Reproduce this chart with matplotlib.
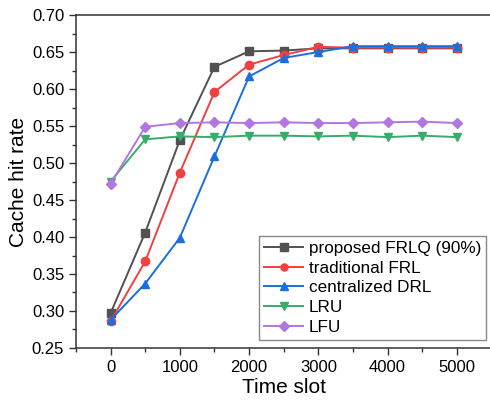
import matplotlib
matplotlib.use("Agg")
import matplotlib.pyplot as plt
from matplotlib.ticker import MultipleLocator

plt.rcParams['font.family'] = ['Liberation Sans', 'DejaVu Sans']

# --- dados ---
time_slot = [0, 500, 1000, 1500, 2000, 2500, 3000, 3500, 4000, 4500, 5000]

frlq = [0.297, 0.406, 0.531, 0.630, 0.651, 0.652, 0.655, 0.655, 0.655, 0.655, 0.655]
frl = [0.286, 0.367, 0.487, 0.596, 0.633, 0.646, 0.657, 0.656, 0.656, 0.656, 0.656]
drl = [0.288, 0.337, 0.399, 0.509, 0.617, 0.642, 0.650, 0.658, 0.658, 0.658, 0.658]
lru = [0.475, 0.532, 0.536, 0.535, 0.537, 0.537, 0.536, 0.537, 0.535, 0.537, 0.535]
lfu = [0.472, 0.549, 0.554, 0.555, 0.554, 0.555, 0.554, 0.554, 0.555, 0.556, 0.554]

series = [
    (frlq, 'proposed FRLQ (90%)', '#515151', 's'),
    (frl, 'traditional FRL', '#F14040', 'o'),
    (drl, 'centralized DRL', '#1A6FDF', '^'),
    (lru, 'LRU', '#37AD6B', 'v'),
    (lfu, 'LFU', '#B177DE', 'D'),
]

fig = plt.figure(figsize=(4.9, 4.07), dpi=100)
ax = fig.add_axes([0.155, 0.145, 0.848, 0.818])

for vals, nome, cor, mk in series:
    ms = 5.5 if mk == 'D' else 6
    ax.plot(time_slot, vals, color=cor, marker=mk, markersize=ms,
            linewidth=1.4, label=nome)

ax.set_xlim(-500, 5500)
ax.set_ylim(0.25, 0.70)
ax.xaxis.set_major_locator(MultipleLocator(1000))
ax.xaxis.set_minor_locator(MultipleLocator(500))
ax.yaxis.set_major_locator(MultipleLocator(0.05))
ax.yaxis.set_minor_locator(MultipleLocator(0.025))
ax.yaxis.set_major_formatter(plt.FormatStrFormatter('%.2f'))

ax.tick_params(which='major', direction='out', length=5, width=1,
               labelsize=12, colors='#333333', labelcolor='black')
ax.tick_params(which='minor', direction='out', length=3, width=1,
               colors='#333333')
ax.tick_params(top=False, right=False)

for s in ax.spines.values():
    s.set_color('#333333')
    s.set_linewidth(1.1)
ax.spines['right'].set_visible(False)

ax.set_xlabel('Time slot', fontsize=15, labelpad=2)
ax.set_ylabel('Cache hit rate', fontsize=15, labelpad=3)

leg = ax.legend(loc='lower right', bbox_to_anchor=(0.987, 0.024),
                borderaxespad=0, fontsize=12.3, handlelength=2.3,
                labelspacing=0.28, handletextpad=0.3, borderpad=0.3,
                fancybox=False, framealpha=1, markerscale=0.85)
leg.get_frame().set_edgecolor('#888888')
leg.get_frame().set_linewidth(1)

fig.savefig('out.png', dpi=100)
